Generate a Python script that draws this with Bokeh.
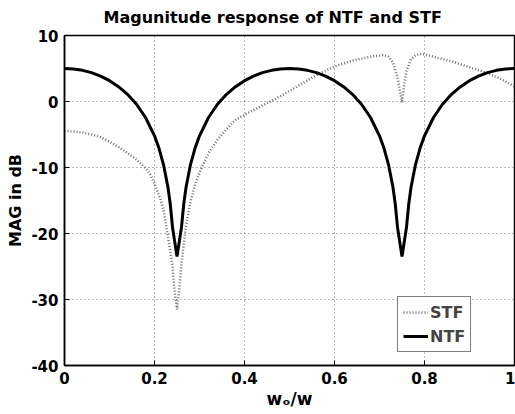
from bokeh.plotting import figure
from bokeh.models import Range1d, FixedTicker, Legend, LegendItem
from bokeh.embed import file_html
from bokeh.resources import INLINE

# ---- data ----
ntf_x = [0.00, 0.02, 0.04, 0.06, 0.08, 0.10, 0.12, 0.14, 0.16, 0.18, 0.20,
         0.21, 0.22, 0.23, 0.235, 0.24, 0.25, 0.26, 0.265, 0.27, 0.28, 0.29, 0.30,
         0.32, 0.34, 0.36, 0.38, 0.40, 0.42, 0.44, 0.46, 0.48, 0.50,
         0.52, 0.54, 0.56, 0.58, 0.60, 0.62, 0.64, 0.66, 0.68, 0.70,
         0.71, 0.72, 0.73, 0.735, 0.74, 0.75, 0.76, 0.765, 0.77, 0.78, 0.79, 0.80,
         0.82, 0.84, 0.86, 0.88, 0.90, 0.92, 0.94, 0.96, 0.98, 1.00]
ntf_y = [5.0, 4.93, 4.72, 4.37, 3.85, 3.16, 2.25, 1.09, -0.42, -2.42, -5.20,
         -7.09, -9.55, -13.04, -15.53, -19.04, -23.5, -19.04, -15.53, -13.04, -9.55, -7.09, -5.20,
         -2.42, -0.42, 1.09, 2.25, 3.16, 3.85, 4.37, 4.72, 4.93, 5.0,
         4.93, 4.72, 4.37, 3.85, 3.16, 2.25, 1.09, -0.42, -2.42, -5.20,
         -7.09, -9.55, -13.04, -15.53, -19.04, -23.5, -19.04, -15.53, -13.04, -9.55, -7.09, -5.20,
         -2.42, -0.42, 1.09, 2.25, 3.16, 3.85, 4.37, 4.72, 4.93, 5.0]

stf_x = [0.00, 0.02, 0.04, 0.06, 0.08, 0.10, 0.12, 0.14, 0.16, 0.18, 0.19, 0.20,
         0.21, 0.22, 0.23, 0.24, 0.245, 0.25, 0.255, 0.26, 0.27, 0.28, 0.29, 0.30,
         0.32, 0.34, 0.36, 0.38, 0.40, 0.42, 0.44, 0.46, 0.48, 0.50, 0.53, 0.56,
         0.60, 0.64, 0.68, 0.71, 0.72, 0.73, 0.74, 0.745, 0.75, 0.755, 0.76, 0.77,
         0.78, 0.79, 0.80, 0.83, 0.86, 0.90, 0.94, 0.97, 1.00]
stf_y = [-4.5, -4.55, -4.7, -5.0, -5.4, -6.1, -6.9, -7.8, -8.8, -10.1, -11.0, -12.4,
         -14.2, -16.3, -20.6, -24.8, -29.0, -31.5, -28.5, -24.5, -18.8, -15.2, -12.6, -10.8,
         -7.8, -5.8, -4.2, -2.8, -2.0, -1.3, -0.6, 0.1, 0.8, 1.6, 2.8, 4.0,
         5.3, 6.2, 6.8, 7.05, 6.8, 5.9, 3.6, 1.8, -0.2, 2.6, 4.6, 6.4,
         7.0, 7.2, 7.15, 6.6, 6.1, 5.2, 4.3, 3.4, 2.3]

x_ticks = [0, 0.2, 0.4, 0.6, 0.8, 1.0]
x_tick_labels = ["0", "0.2", "0.4", "0.6", "0.8", "1"]
y_ticks = [-40, -30, -20, -10, 0, 10]
y_tick_labels = ["-40", "-30", "-20", "-10", "0", "10"]

FONT = "DejaVu Sans"

p = figure(width=515, height=414, output_backend="svg", toolbar_location=None,
           x_range=Range1d(0, 1), y_range=Range1d(-40, 10),
           min_border_left=64, min_border_right=1, min_border_top=35, min_border_bottom=49,
           title="Magunitude response of NTF and STF")
p.background_fill_color = "white"
p.border_fill_color = "white"
p.outline_line_color = "black"
p.outline_line_width = 1.5

p.title.align = "left"
p.title.offset = 39
p.title.text_font = FONT
p.title.text_font_style = "bold"
p.title.text_font_size = "16px"
p.title.text_color = "black"
p.title.standoff = 14
p.title.vertical_align = "top"

for ax, ticks, labels in ((p.xaxis[0], x_ticks, x_tick_labels), (p.yaxis[0], y_ticks, y_tick_labels)):
    ax.ticker = FixedTicker(ticks=ticks)
    ax.major_label_overrides = {t: l for t, l in zip(ticks, labels)}
    ax.major_label_text_font = FONT
    ax.major_label_text_font_style = "bold"
    ax.major_label_text_font_size = "15px"
    ax.major_label_text_color = "black"
    ax.major_tick_in = 5
    ax.major_tick_out = 0
    ax.minor_tick_line_color = None
    ax.axis_line_color = "black"
    ax.axis_line_width = 1.5
    ax.major_tick_line_color = "black"
    ax.major_label_standoff = 6
    ax.axis_label_text_font = FONT
    ax.axis_label_text_font_style = "bold"
    ax.axis_label_text_font_size = "16px"
    ax.axis_label_text_color = "black"

p.xaxis[0].axis_label = "w\u2092/w"
p.xaxis[0].axis_label_text_font_size = "17px"
p.xaxis[0].axis_label_standoff = 2
p.yaxis[0].axis_label = "MAG in dB"
p.yaxis[0].axis_label_standoff = 3

p.xgrid.ticker = FixedTicker(ticks=x_ticks)
p.ygrid.ticker = FixedTicker(ticks=y_ticks)
p.grid.grid_line_color = "black"
p.grid.grid_line_alpha = 0.55
p.grid.grid_line_dash = "1 3"
p.grid.grid_line_width = 1

r_stf = p.line(stf_x, stf_y, line_color="#6e6e6e", line_width=2.5, line_dash="1 2")
r_ntf = p.line(ntf_x, ntf_y, line_color="black", line_width=3)

legend = Legend(items=[LegendItem(label="STF", renderers=[r_stf]),
                       LegendItem(label="NTF", renderers=[r_ntf])],
                location=(333, 13), margin=0, padding=5, spacing=4,
                glyph_width=25, glyph_height=20, label_height=20, label_standoff=2,
                label_text_font=FONT, label_text_font_style="bold", label_text_font_size="16px",
                border_line_color="black", border_line_width=1.2, background_fill_alpha=1)
p.add_layout(legend, "center")

open("out.html", "w").write(file_html(p, INLINE))
